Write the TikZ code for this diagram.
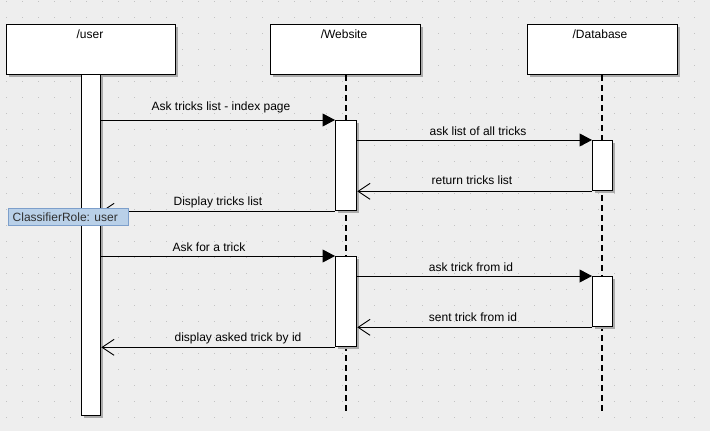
\documentclass[tikz,border=0pt]{standalone}
\usepackage{fontspec}
\setmainfont{Liberation Sans}
\usetikzlibrary{arrows.meta}
\definecolor{bg}{HTML}{EEEEEE}
\definecolor{gdot}{HTML}{C2C2C2}
\definecolor{shad}{HTML}{ABABAB}
\definecolor{tipfill}{HTML}{B9D0E8}
\definecolor{tipdraw}{HTML}{7D9FCB}
\definecolor{tiptext}{HTML}{303030}
\begin{document}
\begin{tikzpicture}[x=1pt,y=-1pt,
  font=\fontsize{12}{14}\selectfont,
  boxbase/.style={draw=black, fill=white, line width=1.3pt, inner sep=0pt, anchor=north west,
    preaction={draw=none, fill=shad, transform canvas={xshift=2pt,yshift=-2pt}}},
  objbox/.style={boxbase, minimum width=#1, minimum height=50pt},
  actbar/.style 2 args={boxbase, minimum width=#1, minimum height=#2},
  title/.style={anchor=base, inner sep=0pt},
  msglbl/.style={anchor=base, inner sep=0pt},
  lifeline/.style={line width=1.1pt, dash pattern=on 6pt off 4pt},
  callmsg/.style={line width=1pt, -{Triangle[length=12.5pt,width=13pt]}},
  retmsg/.style={line width=1pt, -{Straight Barb[length=12pt,width=16pt,line width=0.9pt]}},
  tipbox/.style={draw=tipdraw, fill=tipfill, line width=0.8pt, anchor=north west,
    minimum width=120pt, minimum height=17pt, inner sep=0pt}
]
% background and dot grid
\fill[bg] (0,0) rectangle (710,431);
\useasboundingbox (0,0) rectangle (710,431);
\foreach \i in {0,...,44}{
  \foreach \j in {0,...,26}{
    \fill[gdot] ({6+16*\i-0.5},{1+16*\j-0.5}) rectangle ++(1,1);
  }
}
% object boxes
\node[objbox=169pt] (user) at (6,24) {};
\node[objbox=150pt] (web) at (270,24) {};
\node[objbox=150pt] (db) at (527,24) {};
\node[title] (userlbl) at (90,38) {/user};
\node[title] (weblbl) at (344,38) {/Website};
\node[title] (dblbl) at (600,38) {/Database};
% lifelines
\coordinate (webend) at (346,415);
\coordinate (dbend) at (602,415);
\draw[lifeline] (web.south -| webend) -- (webend);
\draw[lifeline] (db.south -| dbend) -- (dbend);
% activation bars
\node[actbar={19pt}{341pt}] (ubar) at (81,74) {};
\node[actbar={21pt}{90pt}] (wa1) at (335,120) {};
\node[actbar={20pt}{50pt}] (da1) at (592,140) {};
\node[actbar={21pt}{90pt}] (wa2) at (335,256) {};
\node[actbar={20pt}{50pt}] (da2) at (592,276) {};
% messages, first exchange
\draw[callmsg] (ubar.east |- wa1.north west) -- (wa1.north west);
\draw[callmsg] (wa1.east |- da1.north west) -- (da1.north west);
\draw[retmsg] (da1.south west) -- (wa1.east |- da1.south west);
\draw[retmsg] (wa1.south west) -- (ubar.east |- wa1.south west);
% messages, second exchange
\draw[callmsg] (ubar.east |- wa2.north west) -- (wa2.north west);
\draw[callmsg] (wa2.east |- da2.north west) -- (da2.north west);
\draw[retmsg] (da2.south west) -- (wa2.east |- da2.south west);
\draw[retmsg] (wa2.south west) -- (ubar.east |- wa2.south west);
% message labels
\node[msglbl] (m1) at (221,110.5) {Ask tricks list - index page};
\node[msglbl] (m2) at (478,135.5) {ask list of all tricks};
\node[msglbl] (m3) at (472,184.5) {return tricks list};
\node[msglbl] (m4) at (218,205) {Display tricks list};
\node[msglbl] (m5) at (209,251.5) {Ask for a trick};
\node[msglbl] (m6) at (471,271) {ask trick from id};
\node[msglbl] (m7) at (473,321) {sent trick from id};
\node[msglbl] (m8) at (238,341) {display asked trick by id};
% tooltip
\node[tipbox] (tip) at (8,208) {};
\node[anchor=base west, inner sep=0pt, text=tiptext] (tiplbl) at (12.5,221.5) {ClassifierRole: user};
\end{tikzpicture}
\end{document}
